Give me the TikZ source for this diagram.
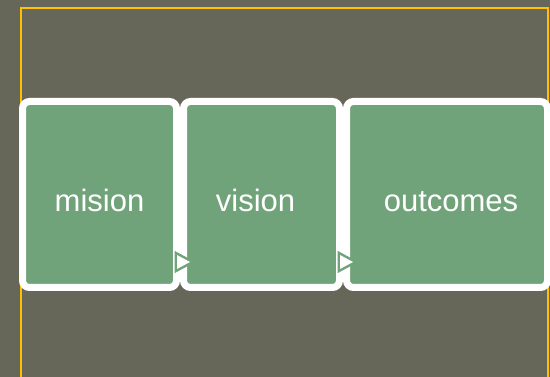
\documentclass[tikz,border=0pt]{standalone}
\usepackage{fontspec}
\setmainfont{Liberation Sans}
\usepackage{tikz}
\usetikzlibrary{positioning, calc}
\definecolor{slate}{HTML}{666758}
\definecolor{leaf}{HTML}{71A37A}
\definecolor{amber}{HTML}{FFC000}
\tikzstyle{block} = [rectangle, rounded corners=7pt, fill=leaf, draw=white, line width=7pt, minimum height=186pt, inner sep=0pt, text=white, font=\fontsize{31}{36}\selectfont, text height=35pt, text depth=0pt]
\tikzstyle{tip} = [fill=white, draw=leaf, line width=5pt, line join=miter]

\begin{document}
\begin{tikzpicture}[x=1pt, y=-1pt]
            \useasboundingbox (0,0) rectangle (550,377);
            \clip (0,0) rectangle (550,377);
            \fill[slate] (0,0) rectangle (550,377);
            \draw[amber, line width=2.5pt] (21,8) rectangle (548,400);
            \node[block, minimum width=154pt] (mision) at (99.5,194.5) {mision};
            \node[block, minimum width=156pt, right=0pt of mision] (vision) {vision\kern12pt\relax};
            \node[block, minimum width=201pt, right=0pt of vision] (outcomes) {\kern8pt outcomes};
            % small pointers between the blocks
            \draw[tip] ($(mision.south east)+(-3,-36)$) -- ++(13,7) -- ++(-13,7) -- cycle;
            \fill[white] ($(mision.south east)+(-3,-36)$) -- ++(13,7) -- ++(-13,7) -- cycle;
            \draw[tip] ($(vision.south east)+(-3,-36)$) -- ++(13,7) -- ++(-13,7) -- cycle;
            \fill[white] ($(vision.south east)+(-3,-36)$) -- ++(13,7) -- ++(-13,7) -- cycle;
        \end{tikzpicture}
\end{document}
